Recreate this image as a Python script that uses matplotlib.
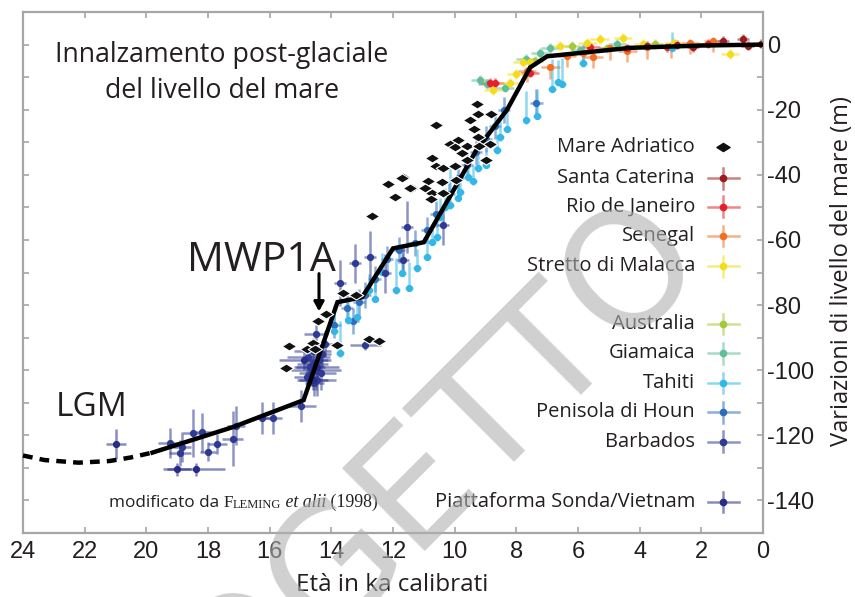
import matplotlib
matplotlib.use("Agg")
import matplotlib.pyplot as plt
from matplotlib.colors import to_rgba
from matplotlib.path import Path

plt.rcParams["axes.unicode_minus"] = False

# ---- data (age in ka cal BP, sea level in m) ----
curve_age = [19.8, 17.2, 14.9, 13.8, 13.0, 12.0, 11.0, 9.3, 8.3, 7.55, 7.0, 4.3, 2.0, 0.0]
curve_lvl = [-125.3, -117.5, -109.2, -79.1, -77.6, -62.6, -60.7, -32.5, -20.0, -7.0, -3.6, -1.0, -0.3, 0.0]

lgm_age = [24.0, 23.3, 22.2, 21.2, 20.5, 19.8]
lgm_lvl = [-126.2, -127.6, -128.4, -127.9, -126.8, -125.3]

adr_age = [13.63, 13.2, 14.17, 14.43, 15.37, 14.8, 14.6, 14.53, 13.83, 15.47, 12.78, 12.45,
           9.27, 9.24, 8.82, 9.5, 9.37, 10.6, 9.24, 9.9, 10.15, 8.85, 9.99, 9.6, 9.2,
           10.73, 9.76, 8.98, 9.6, 10.6, 10.38, 9.99, 11.67, 11.38, 10.86, 10.4, 9.95,
           10.96, 10.73, 10.38, 10.77, 12.68, 12.16, 11.7, 11.45, 11.93]
adr_lvl = [-76.3, -77.0, -82.8, -84.9, -92.5, -93.4, -91.8, -93.4, -92.3, -99.4, -90.5, -91.0,
           -18.4, -21.2, -21.2, -23.3, -25.8, -24.8, -28.5, -29.4, -30.4, -30.4, -31.6, -31.3, -31.3,
           -34.7, -33.4, -35.3, -35.3, -37.4, -38.0, -37.4, -40.8, -43.9, -42.0, -42.3, -41.7,
           -43.9, -45.7, -45.7, -47.5, -52.5, -42.9, -41.1, -43.9, -46.9]

sc_age = [3.76, 2.27, 1.3, 0.65, 0.5, 0.05, 2.8]
sc_lvl = [-0.3, -0.9, 1.2, 1.8, -0.3, 0.3, 0.0]

rio_age = [8.85, 8.7, 7.55, 5.6, 4.4, 3.1, 1.8]
rio_lvl = [-11.7, -11.9, -8.6, -0.9, -1.2, -0.9, 0.3]

sen_age = [6.9, 6.35, 5.84, 4.96, 3.76, 2.37, 1.62, 7.65, 4.4, 3.0, 5.5]
sen_lvl = [-7.0, -3.4, -2.5, -1.2, -0.9, 0.6, 1.2, -8.0, -2.0, -0.5, -3.8]

mal_age = [6.6, 5.7, 5.3, 4.54, 7.55, 7.8, 8.2, 8.76, 1.07, 3.9, 2.9, 8.0]
mal_lvl = [-0.3, 0.6, 1.8, 2.1, -5.5, -5.5, -11.7, -14.1, -2.8, 0.3, 0.6, -9.0]

aus_age = [5.06, 6.2, 3.5, 7.4]
aus_lvl = [-1.2, -0.5, 0.2, -5.0]

gia_age = [9.18, 8.95, 8.37, 7.23, 6.9, 5.93, 4.73, 7.7]
gia_lvl = [-11.0, -12.0, -13.2, -2.5, -1.0, -1.8, 0.3, -4.5]

tah_age = [13.72, 13.45, 13.17, 12.78, 12.36, 11.9, 11.48, 11.22, 10.9, 10.57, 10.73, 10.47,
           10.15, 9.83, 9.57, 9.24, 8.63, 8.53, 7.68, 7.33, 6.84, 6.65, 6.52, 5.84, 2.95,
           13.9, 12.6, 11.7, 10.3, 9.9, 9.4, 9.0, 8.3]
tah_lvl = [-94.8, -84.7, -83.7, -75.5, -69.9, -75.5, -74.8, -68.7, -65.3, -59.2, -60.7, -53.1,
           -49.4, -45.4, -40.8, -38.0, -32.5, -28.5, -23.3, -21.8, -13.5, -11.6, -12.0, -5.8, -1.0,
           -88.0, -78.0, -70.0, -50.0, -47.0, -42.0, -37.0, -26.0]
tah_up = [10, 6, 6, 5, 6, 10, 8, 6, 5, 5, 4, 6,
          12, 6, 5, 4, 5, 5, 9, 8, 9, 7, 8, 6, 5,
          8, 7, 6, 6, 5, 5, 5, 6]

pen_age = [13.9, 13.5, 13.1, 12.6, 12.2, 11.8, 11.3, 10.9, 10.6, 10.2, 9.9, 9.6, 9.3, 9.0,
           8.7, 8.4, 7.35, 13.3, 12.9]
pen_lvl = [-86.0, -81.0, -79.0, -72.0, -66.0, -63.0, -61.0, -57.0, -52.0, -46.0, -41.0, -37.0,
           -33.0, -29.0, -25.0, -20.0, -17.8, -85.0, -77.0]

bar_age = [19.23, 18.9, 18.84, 18.5, 18.2, 18.0, 17.7, 17.2, 17.1, 16.25, 15.9, 15.0,
           14.75, 14.6, 14.5, 14.65, 14.45, 14.55, 14.7, 14.4, 14.3, 14.6, 14.8, 14.35, 14.2, 14.5,
           13.72, 13.23, 12.75, 12.26, 11.67, 11.55, 10.38, 12.9]
bar_lvl = [-122.4, -125.5, -123.6, -119.3, -119.0, -125.0, -122.7, -121.0, -117.0, -114.7, -114.7, -111.0,
           -96.0, -98.0, -100.0, -101.0, -103.0, -104.0, -99.0, -97.0, -95.0, -94.0, -102.0, -101.0, -92.0, -89.0,
           -73.3, -67.2, -65.3, -70.2, -66.2, -56.0, -55.5, -92.3]
bar_xerr = [0.4, 0.35, 0.3, 0.3, 0.3, 0.25, 0.3, 0.35, 0.3, 0.3, 0.3, 0.5,
            0.7, 0.5, 0.8, 0.4, 0.6, 0.3, 0.5, 0.4, 0.3, 0.6, 0.4, 0.5, 0.3, 0.4,
            0.2, 0.2, 0.2, 0.2, 0.2, 0.2, 0.2, 0.5]
bar_yerr = [4.6, 4.0, 4.6, 7.4, 6.0, 3.0, 3.0, 8.4, 6.0, 5.0, 5.0, 5.0,
            4.0, 5.0, 6.0, 4.0, 5.0, 4.0, 5.0, 3.0, 4.0, 4.0, 4.0, 5.0, 4.0, 3.0,
            7.0, 6.0, 8.0, 6.0, 5.0, 8.0, 6.0, 1.5]

son_age = [20.98, 19.0, 18.39, 14.9, 14.45, 14.6]
son_lvl = [-122.7, -130.4, -130.4, -97.0, -99.0, -103.0]
son_xerr = [0.33, 0.45, 0.95, 0.8, 0.7, 0.5]
son_yerr = [4.6, 2.0, 2.0, 3.0, 3.0, 3.0]

legend_names = ["Mare Adriatico", "Santa Caterina", "Rio de Janeiro", "Senegal", "Stretto di Malacca",
                "Australia", "Giamaica", "Tahiti", "Penisola di Houn", "Barbados",
                "Piattaforma Sonda/Vietnam"]

C_SC, C_RIO, C_SEN, C_MAL = "#9b1b1e", "#e6202a", "#f26f22", "#f3dc1c"
C_AUS, C_GIA, C_TAH, C_PEN = "#a5c73c", "#5fbf97", "#33b7e6", "#2e6dbd"
C_BAR, C_SON = "#2f3a93", "#282c87"
legend_colors = ["black", C_SC, C_RIO, C_SEN, C_MAL, C_AUS, C_GIA, C_TAH, C_PEN, C_BAR, C_SON]
legend_rows = [0.741, 0.681, 0.626, 0.570, 0.512, 0.401, 0.345, 0.288, 0.232, 0.175, 0.0595]

SANS = ["Open Sans", "DejaVu Sans"]
TXT = "#231f20"

# flattened diamond used for the Adriatic data
diamond = Path([(-1, 0), (0, 0.62), (1, 0), (0, -0.62), (-1, 0)],
               [Path.MOVETO, Path.LINETO, Path.LINETO, Path.LINETO, Path.CLOSEPOLY])

fig = plt.figure(figsize=(8.55, 5.97), dpi=100)
ax = fig.add_axes([0.0269, 0.1072, 0.8655, 0.8727])


def series(x, y, color, xerr=0.25, yerr=2.0, alpha=0.55):
    ax.errorbar(x, y, xerr=xerr, yerr=yerr, fmt="o", ms=4.2, color=color,
                ecolor=to_rgba(color, alpha), elinewidth=1.8, capsize=0, zorder=2)


# Holocene / deglacial records
series(gia_age, gia_lvl, C_GIA, xerr=0.3, yerr=1.5)
series(aus_age, aus_lvl, C_AUS, xerr=0.25, yerr=1.5)
series(sen_age, sen_lvl, C_SEN, xerr=0.3, yerr=[[3.5] * len(sen_age), [1.0] * len(sen_age)])
series(rio_age, rio_lvl, C_RIO, xerr=0.3, yerr=1.5)
series(mal_age, mal_lvl, C_MAL, xerr=0.3, yerr=1.5)
series(sc_age, sc_lvl, C_SC, xerr=0.2, yerr=1.5)
series(pen_age, pen_lvl, C_PEN, xerr=0.2, yerr=4.0)
series(tah_age, tah_lvl, C_TAH, xerr=0.12, yerr=[[1.0] * len(tah_age), tah_up])
series(bar_age, bar_lvl, C_BAR, xerr=bar_xerr, yerr=bar_yerr)
series(son_age, son_lvl, C_SON, xerr=son_xerr, yerr=son_yerr)

# sea-level curve
ax.plot(lgm_age, lgm_lvl, color="black", lw=3.2, ls=(0, (2.2, 1.6)), zorder=3, clip_on=False)
ax.plot(curve_age, curve_lvl, color="black", lw=3.2, solid_joinstyle="miter", zorder=3)

# Adriatic data
ax.scatter(adr_age, adr_lvl, marker=diamond, s=110, c="#111111", edgecolors="white",
           linewidths=0.8, zorder=4)

ax.set_xlim(24, 0)
ax.set_ylim(-150, 10)
ax.set_xticks(range(0, 25, 2))
ax.set_yticks(range(-140, 1, 20))
ax.set_yticks(range(-150, 10, 10), minor=True)

for s in ax.spines.values():
    s.set_color("#a6a6a6")
    s.set_linewidth(1.6)
ax.tick_params(axis="x", which="both", direction="in", top=True, bottom=True,
               length=4.5, width=1.2, color="#a6a6a6", pad=6,
               labelsize=17, labelcolor=TXT)
ax.tick_params(axis="y", which="both", direction="in", left=True, right=True,
               labelleft=False, labelright=True, length=4.5, width=1.2,
               color="#a6a6a6", pad=3, labelsize=17, labelcolor=TXT)
for lab in ax.get_xticklabels() + ax.get_yticklabels():
    lab.set_family("Liberation Sans")

ax.set_xlabel("Età in ka calibrati", family=SANS, fontsize=17.5, color=TXT, va="baseline")
ax.xaxis.set_label_coords(0.4986, -0.111)
ax.yaxis.set_label_position("right")
ax.set_ylabel("Variazioni di livello del mare (m)", family=SANS, fontsize=17, color=TXT)
ax.yaxis.set_label_coords(1.090, 0.503)

# annotations
ax.text(0.269, 0.904, "Innalzamento post-glaciale", transform=ax.transAxes, ha="center",
        va="baseline", family=SANS, fontsize=19.3, color=TXT)
ax.text(0.269, 0.835, "del livello del mare", transform=ax.transAxes, ha="center",
        va="baseline", family=SANS, fontsize=19.3, color=TXT)
ax.text(0.322, 0.503, "MWP1A", transform=ax.transAxes, ha="center", va="baseline",
        family=SANS, fontsize=29.5, color=TXT)
ax.text(0.093, 0.2246, "LGM", transform=ax.transAxes, ha="center", va="baseline",
        family=SANS, fontsize=24, color=TXT)
ax.annotate("", xy=(14.4, -82.8), xytext=(14.4, -69.5),
            arrowprops=dict(arrowstyle="-|>,head_width=0.3,head_length=0.55", color="black", lw=2.2))

t = ax.text(0.116, 0.050, "modificato da ", transform=ax.transAxes, ha="left", va="baseline",
            family=SANS, fontsize=12.3, color=TXT)
pieces = [("F", dict(family="Liberation Serif", fontsize=12.3)),
          ("LEMING", dict(family="Liberation Serif", fontsize=9)),
          (" et alii", dict(family="Liberation Serif", fontsize=12.8, style="italic")),
          (" (1998)", dict(family="Liberation Serif", fontsize=12.8))]
for txt, kw in pieces:
    t = ax.annotate(txt, xy=(1, 0), xycoords=t, ha="left", va="bottom", color=TXT, **kw)

# legend drawn by hand to keep the gaps of the original
for name, col, yy in zip(legend_names, legend_colors, legend_rows):
    ax.text(0.908, yy, name, transform=ax.transAxes, ha="right", va="center",
            family=SANS, fontsize=14.5, color=TXT)
    if name == "Mare Adriatico":
        ax.scatter([0.946], [yy], marker=diamond, s=90, c="#111111", transform=ax.transAxes,
                   zorder=5, clip_on=False)
    else:
        lc = to_rgba(col, 0.55)
        ax.plot([0.925, 0.968], [yy, yy], color=lc, lw=1.8, transform=ax.transAxes, clip_on=False)
        ax.plot([0.946, 0.946], [yy - 0.02, yy + 0.02], color=lc, lw=1.8,
                transform=ax.transAxes, clip_on=False)
        ax.plot([0.946], [yy], "o", ms=4.5, color=col, transform=ax.transAxes, clip_on=False)

# watermark
fig.text(0.427, 0.108, "PROGETTO", rotation=45, rotation_mode="anchor", ha="center", va="center",
         fontsize=115, color="#b0b0b0", alpha=0.6, family="DejaVu Sans", zorder=10)

fig.savefig("out.png", dpi=100)
